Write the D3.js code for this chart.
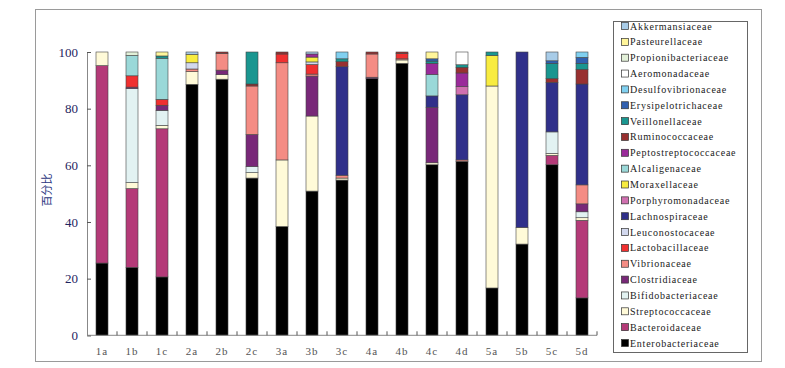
<!DOCTYPE html>
<html><head><meta charset="utf-8">
<script src="https://cdn.jsdelivr.net/npm/d3@7"></script>
<style>body{margin:0;background:#fff}svg{display:block}</style>
</head><body><svg id="c" width="785" height="368"></svg>
<script>
const categories = ["1a","1b","1c","2a","2b","2c","3a","3b","3c","4a","4b","4c","4d","5a","5b","5c","5d"];
// series in stacking order (bottom first)
const seriesNames = ["Enterobacteriaceae","Bacteroidaceae","Streptococcaceae","Bifidobacteriaceae","Clostridiaceae","Vibrionaceae","Lactobacillaceae","Leuconostocaceae","Lachnospiraceae","Porphyromonadaceae","Moraxellaceae","Alcaligenaceae","Peptostreptococcaceae","Ruminococcaceae","Veillonellaceae","Erysipelotrichaceae","Desulfovibrionaceae","Aeromonadaceae","Propionibacteriaceae","Pasteurellaceae","Akkermansiaceae"];
const Enterobacteriaceae   = [25.5,24.0,20.6,88.6,90.4,55.5,38.4,50.9,54.8,90.6,96.0,60.2,61.4,16.7,32.2,60.2,13.2];
const Bacteroidaceae       = [69.7,27.8,52.3,0,0,0,0,0,0,0,0,0,0,0,0,3.3,27.4];
const Streptococcaceae     = [4.8,2.1,1.2,4.5,1.6,1.9,23.5,26.5,0.7,0,1.2,0.7,0,71.3,5.9,0.7,0.9];
const Bifidobacteriaceae   = [0,33.2,5.3,0,0,2.2,0,0,0,0,0,0,0,0,0,7.6,2.1];
const Clostridiaceae       = [0,0.5,1.8,0,1.6,11.3,0,14.1,0,0.5,0,19.6,0,0,0,0,2.8];
const Vibrionaceae         = [0,0,0,0.9,5.9,17.1,34.3,0.7,1.0,8.2,0.4,0,0.5,0,0,0,6.7];
const Lactobacillaceae     = [0,4.0,2.1,0,0,0,3.1,3.4,0,0,1.9,0,0,0,0,0,0];
const Leuconostocaceae     = [0,0,0,2.2,0,0,0,0.9,0,0,0,0,0,0,0,0,0];
const Lachnospiraceae      = [0,0,0,0,0,0,0,0,38.3,0,0,4.0,23.0,0,61.9,17.5,35.6];
const Porphyromonadaceae   = [0,0,0,0,0,0,0,0,0,0,0,0,2.9,0,0,0,0];
const Moraxellaceae        = [0,0,0,3.0,0,0,0,1.7,0,0,0,0,0,10.8,0,0,0];
const Alcaligenaceae       = [0,7.2,14.5,0,0,0,0,0,0,0,0,7.6,0,0,0,0,0];
const Peptostreptococcaceae= [0,0,0,0,0,0,0,1.1,0,0,0,3.9,4.8,0,0,0,0];
const Ruminococcaceae      = [0,0,0,0,0.5,0.7,0.7,0,1.8,0.7,0.5,0,2.0,0,0,1.3,5.2];
const Veillonellaceae      = [0,0,0.8,0,0,11.3,0,0,1.0,0,0,0.8,0.9,1.2,0,5.4,2.1];
const Erysipelotrichaceae  = [0,0,0,0,0,0,0,0,0,0,0,0.8,0,0,0,0.9,2.1];
const Desulfovibrionaceae  = [0,0,0,0,0,0,0,0,2.4,0,0,0,0,0,0,0,1.9];
const Aeromonadaceae       = [0,0,0,0,0,0,0,0,0,0,0,0,4.5,0,0,0,0];
const Propionibacteriaceae = [0,1.2,0,0,0,0,0,0,0,0,0,0,0,0,0,0,0];
const Pasteurellaceae      = [0,0,1.4,0,0,0,0,0,0,0,0,2.4,0,0,0,0,0];
const Akkermansiaceae      = [0,0,0,0.8,0,0,0,0.7,0,0,0,0,0,0,0,3.1,0];
const yTicks = [0,20,40,60,80,100];
const yTitle = "百分比";

const seriesValues = [Enterobacteriaceae,Bacteroidaceae,Streptococcaceae,Bifidobacteriaceae,Clostridiaceae,Vibrionaceae,Lactobacillaceae,Leuconostocaceae,Lachnospiraceae,Porphyromonadaceae,Moraxellaceae,Alcaligenaceae,Peptostreptococcaceae,Ruminococcaceae,Veillonellaceae,Erysipelotrichaceae,Desulfovibrionaceae,Aeromonadaceae,Propionibacteriaceae,Pasteurellaceae,Akkermansiaceae];
const colors = {
 Enterobacteriaceae:"#000000", Bacteroidaceae:"#b43a78", Streptococcaceae:"#fffad8", Bifidobacteriaceae:"#e2f2f2",
 Clostridiaceae:"#782878", Vibrionaceae:"#f48c84", Lactobacillaceae:"#f03030", Leuconostocaceae:"#d2d8ee",
 Lachnospiraceae:"#30308a", Porphyromonadaceae:"#d070b0", Moraxellaceae:"#f8ec40", Alcaligenaceae:"#9ad8d8",
 Peptostreptococcaceae:"#9a2a9a", Ruminococcaceae:"#983030", Veillonellaceae:"#1a9690", Erysipelotrichaceae:"#3060b0",
 Desulfovibrionaceae:"#80d0f0", Aeromonadaceae:"#ffffff", Propionibacteriaceae:"#e2f0d8", Pasteurellaceae:"#fff59a",
 Akkermansiaceae:"#a8cce8"
};

const table = categories.map((c,i)=>{const o={cat:c}; seriesNames.forEach((s,j)=>o[s]=seriesValues[j][i]); return o;});
const stacked = d3.stack().keys(seriesNames)(table);

const svg = d3.select("#c");
svg.append("rect").attr("x",35.5).attr("y",9.5).attr("width",726).attr("height",352).attr("fill","#fff").attr("stroke","#9a9a9a");

const x = d3.scaleBand().domain(categories).range([87,597]).paddingInner(0.6).paddingOuter(0.3);
const y = d3.scaleLinear().domain([0,100]).range([335.3,52]);

// bars
svg.append("g").selectAll("g").data(stacked).join("g").attr("fill",d=>colors[d.key])
 .selectAll("rect").data(d=>d.filter(p=>p[1]-p[0]>0)).join("rect")
 .attr("x",p=>x(p.data.cat)).attr("width",x.bandwidth())
 .attr("y",p=>y(p[1])).attr("height",p=>y(p[0])-y(p[1]))
 .attr("stroke","#444").attr("stroke-width",0.6);

// y axis
const gy = svg.append("g").attr("transform","translate(87,0)")
 .call(d3.axisLeft(y).tickValues(yTicks).tickSize(-4).tickPadding(9));
gy.select(".domain").attr("stroke","#888");
gy.selectAll(".tick line").attr("stroke","#555");
gy.selectAll(".tick text").attr("font-family","Liberation Serif").attr("font-size",13).attr("fill","#1e2460");

// x axis
const gx = svg.append("g").attr("transform","translate(0,335.3)");
gx.append("line").attr("x1",87).attr("x2",597).attr("stroke","#888");
const bounds = categories.map(c=>x(c)+x.bandwidth()/2+x.step()/2);
gx.selectAll("line.t").data(bounds).join("line").attr("class","t")
 .attr("x1",d=>d).attr("x2",d=>d).attr("y1",0).attr("y2",-4).attr("stroke","#555");
gx.selectAll("text").data(categories).join("text")
 .attr("x",c=>x(c)+x.bandwidth()/2).attr("y",20).attr("text-anchor","middle")
 .attr("font-family","Liberation Serif").attr("font-size",11).attr("letter-spacing",1).attr("fill","#555").text(c=>c);

svg.append("text").attr("transform","translate(51,190) rotate(-90)").attr("text-anchor","middle")
 .attr("font-family","Noto Sans CJK SC").attr("font-size",11).attr("fill","#2a3580").text(yTitle);

// legend
const lg = svg.append("g");
lg.append("rect").attr("x",613.5).attr("y",21.5).attr("width",134).attr("height",331).attr("fill","#fff").attr("stroke","#666");
const legendItems = seriesNames.slice().reverse();
const li = lg.selectAll("g.item").data(legendItems).join("g").attr("class","item")
 .attr("transform",(d,i)=>`translate(621,${26+i*15.85})`);
li.append("rect").attr("x",0.5).attr("y",-3.5).attr("width",7).attr("height",7).attr("fill",d=>colors[d]).attr("stroke","#333").attr("stroke-width",0.7);
li.append("text").attr("x",9).attr("y",3.5).attr("font-family","Liberation Serif").attr("font-size",10).attr("letter-spacing",0.75).attr("fill","#222").text(d=>d);
</script></body></html>
